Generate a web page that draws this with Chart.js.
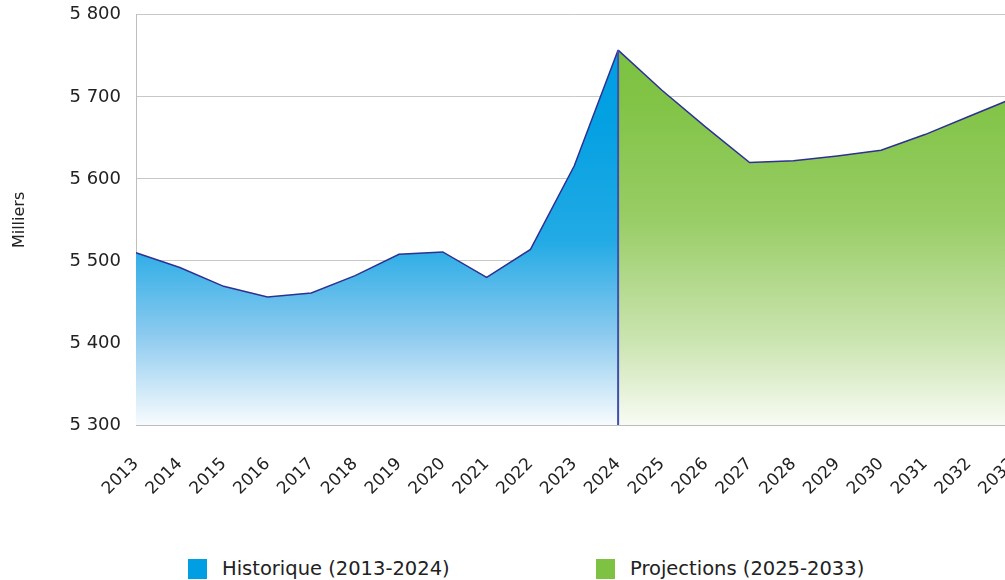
<!DOCTYPE html>
<html lang="fr">
<head>
<meta charset="utf-8">
<script src="https://cdn.jsdelivr.net/npm/chart.js@4"></script>
<style>
  body { margin: 0; width: 1005px; height: 580px; overflow: hidden; background: #fff; font-family: "DejaVu Sans", sans-serif; }
  #boite { position: absolute; left: 0; top: -11px; width: 1056px; height: 541px; }
  .legende { position: absolute; top: 557px; font-size: 19.5px; color: #222; display: flex; align-items: center; white-space: nowrap; }
  .legende span.carre { display: inline-block; width: 19px; height: 20px; margin-right: 15px; }
</style>
</head>
<body>
<div id="boite"><canvas id="graficoAire"></canvas></div>
<div class="legende" style="left:188px"><span class="carre" style="background:#009fe3"></span>Historique (2013-2024)</div>
<div class="legende" style="left:596px"><span class="carre" style="background:#7dc242"></span>Projections (2025-2033)</div>

<script>
const annees = ["2013", "2014", "2015", "2016", "2017", "2018", "2019", "2020", "2021", "2022", "2023",
  "2024", "2025", "2026", "2027", "2028", "2029", "2030", "2031", "2032", "2033"];

// milliers de personnes
const historique = [5510, 5492, 5469, 5456, 5461, 5482, 5508, 5511, 5480, 5514, 5616, 5757];
const projections = [5757, 5708, 5663, 5620, 5622, 5628, 5635, 5654, 5676, 5698];

const ticksY = [5300, 5400, 5500, 5600, 5700, 5800];

// on complète avec des null pour que chaque série reste sur sa période
let dadosHisto = [];
let dadosProj = [];
for (let i = 0; i < annees.length; i++) {
  dadosHisto.push(i < historique.length ? historique[i] : null);
  dadosProj.push(i >= historique.length - 1 ? projections[i - (historique.length - 1)] : null);
}

// ligne verticale qui sépare l'historique des projections
const separation = [
  { x: "2024", y: ticksY[0] },
  { x: "2024", y: historique[historique.length - 1] },
];

function degradeBleu(context) {
  const area = context.chart.chartArea;
  if (!area) return "#009fe3";
  const g = context.chart.ctx.createLinearGradient(0, area.top, 0, area.bottom);
  g.addColorStop(0, "#009fe2");
  g.addColorStop(0.25, "#03a0e2");
  g.addColorStop(0.55, "#22aae5");
  g.addColorStop(0.78, "#8ccaef");
  g.addColorStop(0.93, "#d6ecf9");
  g.addColorStop(1, "#f7fbfe");
  return g;
}

function degradeVert(context) {
  const area = context.chart.chartArea;
  if (!area) return "#7dc242";
  const g = context.chart.ctx.createLinearGradient(0, area.top, 0, area.bottom);
  g.addColorStop(0, "#7bc140");
  g.addColorStop(0.2, "#80c345");
  g.addColorStop(0.5, "#99cd66");
  g.addColorStop(0.8, "#cce5b2");
  g.addColorStop(1, "#f8fbf3");
  return g;
}

new Chart(document.getElementById("graficoAire"), {
  type: "line",
  data: {
    labels: annees,
    datasets: [
      {
        label: "Séparation",
        data: separation,
        borderColor: "#3f4fb0",
        borderWidth: 2,
        pointRadius: 0,
        fill: false,
        order: 0,
      },
      {
        label: "Historique (2013-2024)",
        data: dadosHisto,
        borderColor: "#2e3192",
        borderWidth: 1.5,
        backgroundColor: degradeBleu,
        fill: "start",
        tension: 0,
        pointRadius: 0,
        order: 2,
      },
      {
        label: "Projections (2025-2033)",
        data: dadosProj,
        borderColor: "#2e3192",
        borderWidth: 1.5,
        backgroundColor: degradeVert,
        fill: "start",
        tension: 0,
        pointRadius: 0,
        order: 1,
      },
    ],
  },
  options: {
    responsive: true,
    maintainAspectRatio: false,
    animation: false,
    layout: { padding: { left: 10, top: 3, right: 0, bottom: 0 } },
    plugins: {
      legend: { display: false },
      tooltip: { enabled: false },
    },
    scales: {
      x: {
        grid: { display: false, drawTicks: false },
        border: { display: true, color: "#bdbdbd", width: 1 },
        ticks: {
          autoSkip: false,
          maxRotation: 45,
          minRotation: 45,
          padding: 29,
          color: "#222",
          font: { family: "DejaVu Sans", size: 17 },
        },
        afterFit: function (scale) {
          scale.height = 105;
        },
      },
      y: {
        min: 5300,
        max: 5800,
        afterBuildTicks: function (scale) {
          scale.ticks = ticksY.map((v) => ({ value: v }));
        },
        grid: { color: "#c8c8c8", lineWidth: 1, drawTicks: false },
        border: { display: true, color: "#bdbdbd", width: 1 },
        ticks: {
          padding: 15,
          color: "#222",
          font: { family: "DejaVu Sans", size: 18 },
          callback: function (v) {
            return String(v).replace(/(\d)(\d{3})$/, "$1 $2");
          },
        },
        title: {
          display: true,
          text: "Milliers",
          color: "#222",
          padding: { top: 0, bottom: 0 },
          font: { family: "DejaVu Sans", size: 16 },
        },
        afterFit: function (scale) {
          scale.width = 126;
        },
      },
    },
  },
});
</script>
</body>
</html>
